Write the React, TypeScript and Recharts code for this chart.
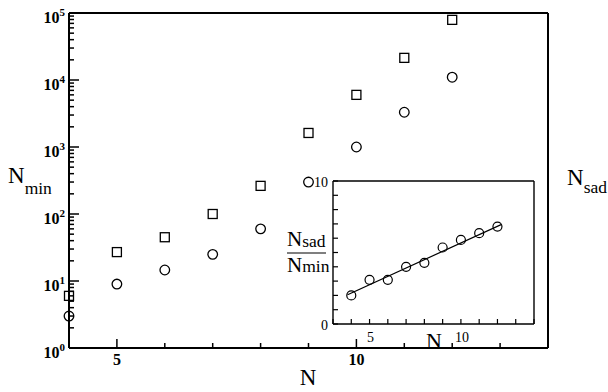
import { ComposedChart, Scatter, XAxis, YAxis } from "recharts";

// main panel: number of minima / saddles vs N
const sizes = [4, 5, 6, 7, 8, 9, 10, 11, 12];
const saddleCounts = [6, 27, 45, 100, 263, 1620, 6000, 21400, 79000];
const minimaCounts = [3, 9, 14.6, 25, 60, 300, 1000, 3300, 11000];

// inset: ratio N_sad / N_min and its fit line
const ratios = [2.0, 3.09, 3.09, 4.0, 4.28, 5.35, 5.88, 6.35, 6.81];
const fitSizes = [3.8, 12.2];
const fitRatios = [2.05, 6.95];

const mainXTicks = [4, 5, 6, 7, 8, 9, 10, 11, 12, 13, 14];
const mainXLabels = [5, 10];
const decades = [1, 10, 100, 1000, 10000, 100000];
const minorSteps = [2, 3, 4, 5, 6, 7, 8, 9];
const insetXTicks = [3, 4, 5, 6, 7, 8, 9, 10, 11, 12, 13, 14];
const insetXLabels = [5, 10];
const insetYTicks = [0, 1, 2, 3, 4, 5, 6, 7, 8, 9, 10];
const insetYLabels = [0, 10];

const saddleData = sizes.map((n, i) => ({ n, v: saddleCounts[i] }));
const minimaData = sizes.map((n, i) => ({ n, v: minimaCounts[i] }));
const ratioData = sizes.map((n, i) => ({ n, v: ratios[i] }));
const fitData = fitSizes.map((n, i) => ({ n, v: fitRatios[i] }));

const logTicks: number[] = [];
decades.forEach((d, i) => {
  logTicks.push(d);
  if (i < decades.length - 1) minorSteps.forEach((m) => logTicks.push(d * m));
});

const serif = "'Liberation Serif', 'Times New Roman', serif";

const isDecade = (v: number) => decades.includes(v);

const MainBottomTick = (props: any) => {
  const { x, y, payload } = props;
  const major = mainXLabels.includes(payload.value);
  return (
    <g>
      <line x1={x} x2={x} y1={y} y2={y - (major ? 9 : 5)} stroke="#000" strokeWidth={1.5} />
      {major && (
        <text x={x} y={y + 17} textAnchor="middle" fontFamily={serif} fontWeight="bold" fontSize={16}>
          {payload.value}
        </text>
      )}
    </g>
  );
};

const MainTopTick = (props: any) => {
  const { x, y, payload } = props;
  const major = mainXLabels.includes(payload.value);
  return <line x1={x} x2={x} y1={y} y2={y + (major ? 9 : 5)} stroke="#000" strokeWidth={1.5} />;
};

const MainLeftTick = (props: any) => {
  const { x, y, payload } = props;
  const major = isDecade(payload.value);
  const exp = Math.round(Math.log10(payload.value));
  return (
    <g>
      <line x1={x} x2={x + (major ? 10 : 5)} y1={y} y2={y} stroke="#000" strokeWidth={1.5} />
      {major && (
        <text x={x - 4} y={y + 9.5} textAnchor="end" fontFamily={serif} fontWeight="bold" fontSize={16}>
          10
          <tspan dy={-7} fontSize={11}>
            {exp}
          </tspan>
        </text>
      )}
    </g>
  );
};

const MainRightTick = (props: any) => {
  const { x, y, payload } = props;
  const major = isDecade(payload.value);
  return <line x1={x} x2={x - (major ? 10 : 5)} y1={y} y2={y} stroke="#000" strokeWidth={1.5} />;
};

const InsetBottomTick = (props: any) => {
  const { x, y, payload } = props;
  const labelled = insetXLabels.includes(payload.value);
  return (
    <g>
      <line x1={x} x2={x} y1={y} y2={y - 5} stroke="#000" strokeWidth={1.2} />
      {labelled && (
        <text x={x + 1} y={y + 18} textAnchor="middle" fontFamily={serif} fontSize={14}>
          {payload.value}
        </text>
      )}
    </g>
  );
};

const InsetTopTick = (props: any) => {
  const { x, y } = props;
  return <line x1={x} x2={x} y1={y} y2={y + 5} stroke="#000" strokeWidth={1.2} />;
};

const InsetLeftTick = (props: any) => {
  const { x, y, payload } = props;
  const labelled = insetYLabels.includes(payload.value);
  return (
    <g>
      <line x1={x} x2={x + 5} y1={y} y2={y} stroke="#000" strokeWidth={1.2} />
      {labelled && (
        <text x={x - 5} y={y + 5.5} textAnchor="end" fontFamily={serif} fontSize={14}>
          {payload.value}
        </text>
      )}
    </g>
  );
};

const InsetRightTick = (props: any) => {
  const { x, y } = props;
  return <line x1={x} x2={x - 5} y1={y} y2={y} stroke="#000" strokeWidth={1.2} />;
};

const SquareMark = (props: any) => (
  <rect x={props.cx - 4.5} y={props.cy - 4.5} width={9} height={9} fill="none" stroke="#000" strokeWidth={1.3} />
);

const CircleMark = (props: any) => (
  <circle cx={props.cx} cy={props.cy} r={4.8} fill="none" stroke="#000" strokeWidth={1.3} />
);

const SmallCircle = (props: any) => (
  <circle cx={props.cx} cy={props.cy} r={4.5} fill="none" stroke="#000" strokeWidth={1.2} />
);

const NoMark = () => null;

const mainAxis = { stroke: "#000", strokeWidth: 2 };
const insetAxis = { stroke: "#000", strokeWidth: 1.4 };

export default function App() {
  return (
    <div style={{ position: "absolute", left: 0, top: 0, width: 608, height: 392, background: "#fff" }}>
      <div style={{ position: "absolute", left: 0, top: 0 }}>
        <ComposedChart width={608} height={392} margin={{ top: 0, right: 0, bottom: 0, left: 0 }}>
          <XAxis
            xAxisId="b"
            type="number"
            dataKey="n"
            domain={[4, 14]}
            ticks={mainXTicks}
            interval={0}
            height={44}
            tickSize={0}
            tickMargin={0}
            tickLine={false}
            axisLine={mainAxis}
            tick={<MainBottomTick />}
          />
          <XAxis
            xAxisId="t"
            orientation="top"
            type="number"
            dataKey="n"
            domain={[4, 14]}
            ticks={mainXTicks}
            interval={0}
            height={13}
            tickSize={0}
            tickMargin={0}
            tickLine={false}
            axisLine={mainAxis}
            tick={<MainTopTick />}
          />
          <YAxis
            yAxisId="l"
            type="number"
            dataKey="v"
            scale="log"
            domain={[1, 100000]}
            ticks={logTicks}
            interval={0}
            width={69}
            tickSize={0}
            tickMargin={0}
            tickLine={false}
            axisLine={mainAxis}
            tick={<MainLeftTick />}
          />
          <YAxis
            yAxisId="r"
            orientation="right"
            type="number"
            dataKey="v"
            scale="log"
            domain={[1, 100000]}
            ticks={logTicks}
            interval={0}
            width={60}
            tickSize={0}
            tickMargin={0}
            tickLine={false}
            axisLine={mainAxis}
            tick={<MainRightTick />}
          />
          <Scatter xAxisId="b" yAxisId="l" data={saddleData} dataKey="v" shape={SquareMark} isAnimationActive={false} />
          <Scatter xAxisId="b" yAxisId="l" data={minimaData} dataKey="v" shape={CircleMark} isAnimationActive={false} />
        </ComposedChart>
      </div>

      <div style={{ position: "absolute", left: 280, top: 165 }}>
        <ComposedChart width={262} height={190} margin={{ top: 0, right: 0, bottom: 0, left: 0 }}>
          <XAxis
            xAxisId="b"
            type="number"
            dataKey="n"
            domain={[3, 14]}
            ticks={insetXTicks}
            interval={0}
            height={31}
            tickSize={0}
            tickMargin={0}
            tickLine={false}
            axisLine={insetAxis}
            tick={<InsetBottomTick />}
          />
          <XAxis
            xAxisId="t"
            orientation="top"
            type="number"
            dataKey="n"
            domain={[3, 14]}
            ticks={insetXTicks}
            interval={0}
            height={16}
            tickSize={0}
            tickMargin={0}
            tickLine={false}
            axisLine={insetAxis}
            tick={<InsetTopTick />}
          />
          <YAxis
            yAxisId="l"
            type="number"
            dataKey="v"
            domain={[0, 10]}
            ticks={insetYTicks}
            interval={0}
            width={53}
            tickSize={0}
            tickMargin={0}
            tickLine={false}
            axisLine={insetAxis}
            tick={<InsetLeftTick />}
          />
          <YAxis
            yAxisId="r"
            orientation="right"
            type="number"
            dataKey="v"
            domain={[0, 10]}
            ticks={insetYTicks}
            interval={0}
            width={8}
            tickSize={0}
            tickMargin={0}
            tickLine={false}
            axisLine={insetAxis}
            tick={<InsetRightTick />}
          />
          <Scatter
            xAxisId="b"
            yAxisId="l"
            data={fitData}
            dataKey="v"
            shape={NoMark}
            line={{ stroke: "#000", strokeWidth: 1.2 }}
            isAnimationActive={false}
          />
          <Scatter xAxisId="b" yAxisId="l" data={ratioData} dataKey="v" shape={SmallCircle} isAnimationActive={false} />
        </ComposedChart>
      </div>

      <svg width={608} height={392} style={{ position: "absolute", left: 0, top: 0, pointerEvents: "none" }}>
        <g fontFamily={serif} fill="#000">
          <text x={308} y={385} textAnchor="middle" fontSize={23}>
            N
          </text>
          <text x={8} y={183} fontSize={23}>
            N
            <tspan dy={11} fontSize={17.5}>
              min
            </tspan>
          </text>
          <text x={567} y={185} fontSize={23}>
            N
            <tspan dy={8} fontSize={17.5}>
              sad
            </tspan>
          </text>
          <text x={287} y={246} fontSize={21}>
            N
            <tspan dy={1} fontSize={17.5}>
              sad
            </tspan>
          </text>
          <line x1={287} x2={326} y1={253} y2={253} stroke="#000" strokeWidth={1.2} />
          <text x={287} y={272} fontSize={21}>
            N
            <tspan fontSize={17.5}>min</tspan>
          </text>
          <text x={434} y={348} textAnchor="middle" fontSize={22}>
            N
          </text>
        </g>
      </svg>
    </div>
  );
}
